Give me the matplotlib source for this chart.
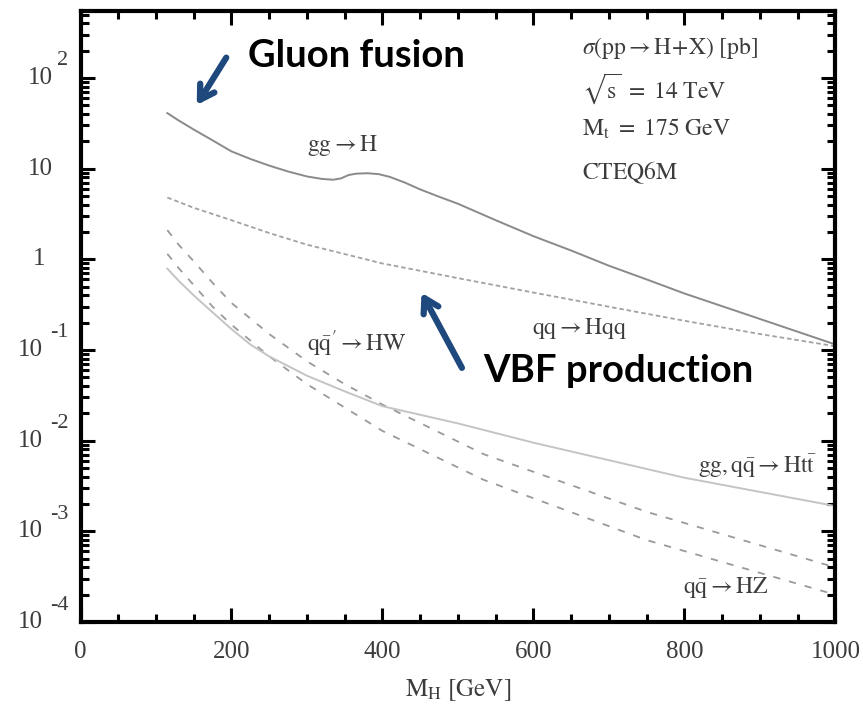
import matplotlib
matplotlib.use("Agg")
import matplotlib.pyplot as plt
from matplotlib.ticker import FixedLocator, MultipleLocator, LogLocator, NullFormatter

plt.rcParams['font.family'] = ['Liberation Serif', 'DejaVu Serif']
plt.rcParams['mathtext.fontset'] = 'stix'

# ---------------- data (M_H [GeV], sigma [pb]) ----------------
ggH_m = [115, 130, 150, 175, 200, 225, 250, 275, 300, 320, 335, 345, 355, 365, 380, 395, 410, 430,
         450, 475, 500, 550, 600, 650, 700, 750, 800, 900, 1000]
ggH_s = [41, 34, 27, 20.5, 15.5, 12.8, 10.8, 9.3, 8.2, 7.7, 7.55, 7.8, 8.5, 8.8, 8.9, 8.7, 8.1, 7.0,
         5.9, 4.9, 4.1, 2.7, 1.8, 1.25, 0.85, 0.6, 0.42, 0.22, 0.115]

vbf_m = [115, 150, 200, 250, 300, 400, 500, 600, 700, 800, 900, 1000]
vbf_s = [4.8, 3.7, 2.7, 1.95, 1.45, 0.9, 0.62, 0.43, 0.30, 0.21, 0.15, 0.11]

wh_m = [115, 130, 150, 175, 200, 250, 300, 350, 400, 534, 750, 1000]
wh_s = [2.1, 1.45, 0.95, 0.55, 0.33, 0.15, 0.075, 0.042, 0.025, 0.0071, 0.00164, 0.00040]

zh_m = [115, 130, 150, 175, 200, 250, 300, 400, 534, 750, 1000]
zh_s = [1.15, 0.80, 0.52, 0.30, 0.19, 0.085, 0.042, 0.0128, 0.0037, 0.00080, 0.00020]

tth_m = [115, 130, 150, 175, 200, 225, 250, 300, 350, 400, 500, 600, 800, 1000]
tth_s = [0.79, 0.58, 0.40, 0.26, 0.17, 0.115, 0.085, 0.052, 0.035, 0.024, 0.0155, 0.0095, 0.0039, 0.0019]

ytick_vals = [1e-4, 1e-3, 1e-2, 1e-1, 1, 10, 100]
ytick_base = ['10', '10', '10', '10', '1', '10', '10']
ytick_exp = ['-4', '-3', '-2', '-1', '', '', '2']
xtick_vals = [0, 200, 400, 600, 800, 1000]

curve_labels = [
    (r'$\mathrm{gg\rightarrow H}$', 300, 18.1),
    (r"$\mathrm{q\bar{q}'\rightarrow HW}$", 300, 0.1186),
    (r'$\mathrm{qq\rightarrow Hqq}$', 598, 0.173),
    (r'$\mathrm{gg,q\bar{q}\rightarrow Ht\bar{t}}$', 818, 0.0053),
    (r'$\mathrm{q\bar{q}\rightarrow HZ}$', 798, 2.42e-4),
]
info_lines = [
    (r'$\sigma\mathrm{(pp\rightarrow H\!+\!X)\ [pb]}$', 212),
    (r'$\sqrt{\mathrm{s}}\ \mathrm{=\ 14\ TeV}$', 76.8),
    (r'$\mathrm{M_t\ =\ 175\ GeV}$', 27.8),
    (r'$\mathrm{CTEQ6M}$', 9.1),
]

# ---------------- figure ----------------
fig = plt.figure(figsize=(8.63, 7.09), dpi=100)
ax = fig.add_axes([0.0933, 0.1227, 0.968 - 0.0933, 0.9845 - 0.1227])
ax.set_yscale('log')
ax.set_xlim(0, 1000)
ax.set_ylim(1e-4, 548)

ax.plot(ggH_m, ggH_s, color='#8a8a8a', lw=1.4, ls='-')
ax.plot(vbf_m, vbf_s, color='#a2a2a2', lw=1.3, ls=(0, (2.5, 1.6)))
ax.plot(wh_m, wh_s, color='#9a9a9a', lw=1.3, ls=(0, (4, 5)))
ax.plot(zh_m, zh_s, color='#9a9a9a', lw=1.3, ls=(0, (4, 5)))
ax.plot(tth_m, tth_s, color='#c4c4c4', lw=1.4, ls='-')

txtc = '#3c3c3c'
for s, xm, ys in curve_labels:
    ax.text(xm, ys, s, fontsize=17, color=txtc, ha='left', va='center')
for s, ys in info_lines:
    ax.text(664, ys, s, fontsize=17, color=txtc, ha='left', va='center')

# spines and ticks
for sp in ax.spines.values():
    sp.set_linewidth(3.0)
ax.xaxis.set_major_locator(FixedLocator(xtick_vals))
ax.xaxis.set_minor_locator(MultipleLocator(50))
ax.yaxis.set_major_locator(FixedLocator(ytick_vals))
ax.yaxis.set_minor_locator(LogLocator(base=10, subs=range(2, 10), numticks=20))
ax.yaxis.set_minor_formatter(NullFormatter())
ax.tick_params(which='both', direction='in', top=True, right=True, color='black')
ax.tick_params(which='major', length=10, width=2.2)
ax.tick_params(which='minor', length=5.5, width=2.2)
ax.tick_params(axis='x', which='major', pad=14, labelsize=18, labelcolor=txtc)
ax.set_xticklabels([str(v) for v in xtick_vals])
ax.set_yticklabels(['' for _ in ytick_vals])

ytr = ax.get_yaxis_transform()
for v, b, e in zip(ytick_vals, ytick_base, ytick_exp):
    if e.startswith('-'):
        xr = -38
    elif b == '1':
        xr = -35
    else:
        xr = -28
    ax.annotate(b, xy=(0, v), xycoords=ytr, xytext=(xr, 0), textcoords='offset pixels',
                ha='right', va='center', fontsize=18, color=txtc, annotation_clip=False)
    if e:
        ax.annotate(e, xy=(0, v), xycoords=ytr, xytext=(-12, 17), textcoords='offset pixels',
                    ha='right', va='center', fontsize=16, color=txtc, annotation_clip=False)

ax.set_xlabel(r'$\mathrm{M_H\ [GeV]}$', fontsize=18, color=txtc, labelpad=10)

# highlight annotations
blue = '#1F497D'
ax.annotate('', xy=(152, 47.4), xytext=(195, 178),
            arrowprops=dict(arrowstyle='->,head_length=1.0,head_width=0.6', lw=4.5,
                            color=blue, capstyle='round', joinstyle='round'))
ax.annotate('', xy=(450, 0.455), xytext=(507, 0.0597),
            arrowprops=dict(arrowstyle='->,head_length=1.0,head_width=0.6', lw=4.5,
                            color=blue, capstyle='round', joinstyle='round'))
ax.text(0.222, 0.908, 'Gluon fusion', transform=ax.transAxes, fontsize=27.5,
        fontweight='bold', family=['Lato', 'DejaVu Sans'], color='black', ha='left', va='baseline')
ax.text(0.533, 0.393, 'VBF production', transform=ax.transAxes, fontsize=27.5,
        fontweight='bold', family=['Lato', 'DejaVu Sans'], color='black', ha='left', va='baseline')

fig.savefig('out.png', dpi=100)
